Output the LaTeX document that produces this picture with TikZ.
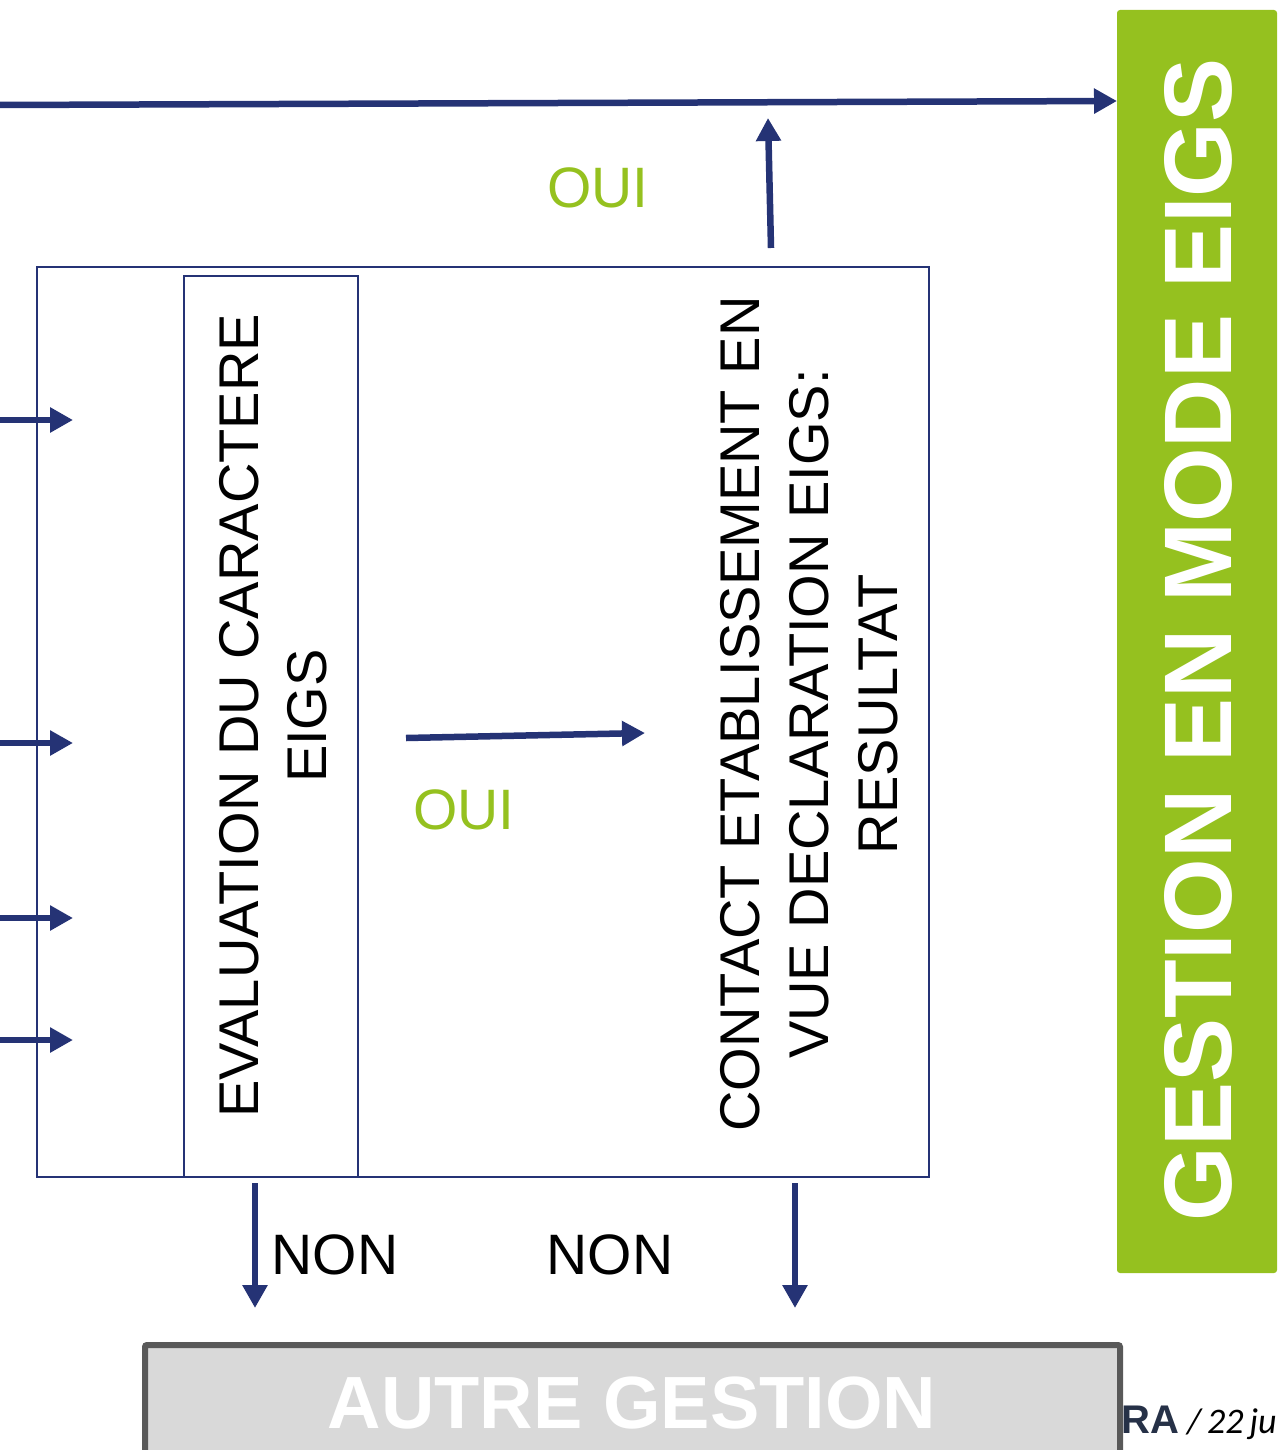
\documentclass[tikz,border=0pt]{standalone}
\usepackage{fontspec}
\setmainfont{Liberation Sans}
\newfontfamily\calib{Carlito}
\usetikzlibrary{arrows.meta}
\definecolor{navy}{HTML}{253375}
\definecolor{lgreen}{HTML}{95C11F}
\definecolor{gfill}{HTML}{D9D9D9}
\definecolor{gline}{HTML}{595959}
\definecolor{slate}{HTML}{263147}
\begin{document}
\begin{tikzpicture}[x=1pt,y=-1pt,
  arr/.style={navy, line width=6.5pt, -{Triangle[length=23pt,width=24pt]}},
  frame/.style={draw=navy, line width=1.8pt, inner sep=0pt},
  vtext/.style={rotate=90, align=center, inner sep=0pt, font=\fontsize{56}{68}\selectfont},
  lab/.style={inner sep=0pt, font=\fontsize{57}{66}\selectfont},
  oui/.style={lab, text=lgreen},
]
\useasboundingbox (0,0) rectangle (1287,1450);
% boxes
\node[frame, minimum width=892pt, minimum height=910pt] (outer) at (483,722) {};
\node[frame, minimum width=174pt, minimum height=901pt] (inner) at (271,726.5) {};
\node[fill=lgreen, rounded corners=3pt, minimum width=160pt, minimum height=1263pt, inner sep=0pt] (gest) at (1197,641.5) {};
\node[fill=gfill, draw=gline, line width=6pt, rounded corners=2pt, minimum width=975pt, minimum height=155pt, inner sep=0pt] (autre) at (632.5,1422.5) {};
% texts
\node[rotate=90, inner sep=0pt, text=white, font=\fontsize{96}{110}\selectfont\bfseries] (gestt) at (1198,640) {GESTION EN MODE EIGS};
\node[inner sep=0pt, text=white, font=\fontsize{74}{80}\selectfont\bfseries] (autret) at (632,1403) {AUTRE GESTION};
\node[vtext] (eval) at (273,716) {EVALUATION DU CARACTERE\\EIGS};
\node[vtext, font=\fontsize{56}{69}\selectfont] (contact) at (809,714) {CONTACT ETABLISSEMENT EN\\VUE DECLARATION EIGS:\\RESULTAT};
\node[oui] (oui1) at (598,188) {OUI};
\node[oui] (oui2) at (464,810) {OUI};
\node[lab] (non1) at (335,1255) {NON};
\node[lab] (non2) at (610,1255) {NON};
\node[anchor=base west, inner sep=0pt] (foot) at (1121,1433) {{\fontsize{40}{44}\selectfont\bfseries\color{slate}RA}{\calib\fontsize{36}{40}\selectfont\ \itshape /\,22\,ju}};
% arrow coordinates
\coordinate (t0) at (0,105);
\coordinate (t1) at (1117,101);
\coordinate (u0) at (771,248);
\coordinate (u1) at (768,118);
\coordinate (m0) at (406,738);
\coordinate (m1) at (645,733);
\coordinate (a0) at (0,420);   \coordinate (a1) at (73,420);
\coordinate (b0) at (0,743);   \coordinate (b1) at (73,743);
\coordinate (c0) at (0,918);   \coordinate (c1) at (73,918);
\coordinate (d0) at (0,1040);  \coordinate (d1) at (73,1040);
\coordinate (n0) at (255,1183); \coordinate (n1) at (255,1308);
\coordinate (p0) at (795,1183); \coordinate (p1) at (795,1308);
% arrows
\draw[arr] (t0) -- (t1);
\draw[arr] (u0) -- (u1);
\draw[arr] (m0) -- (m1);
\draw[arr] (a0) -- (a1);
\draw[arr] (b0) -- (b1);
\draw[arr] (c0) -- (c1);
\draw[arr] (d0) -- (d1);
\draw[arr] (n0) -- (n1);
\draw[arr] (p0) -- (p1);
\end{tikzpicture}
\end{document}
